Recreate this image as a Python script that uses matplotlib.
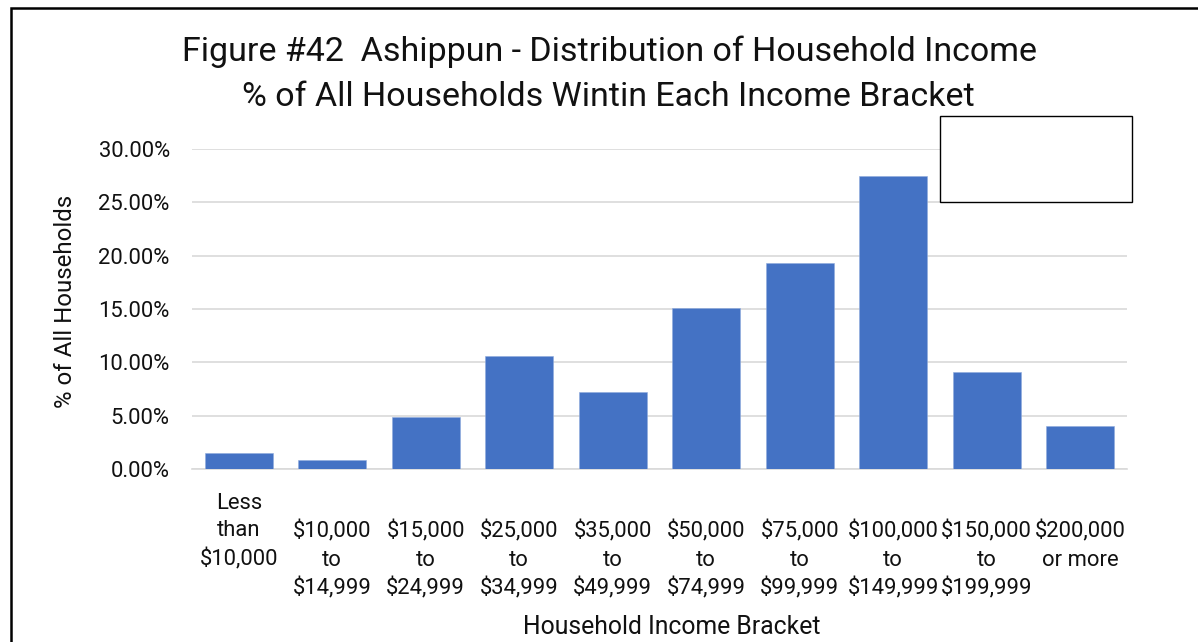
import matplotlib.pyplot as plt
from matplotlib.patches import Rectangle
from matplotlib.ticker import FuncFormatter

plt.rcParams['font.family'] = ['Roboto', 'DejaVu Sans']

# Household income brackets and share of households in each
brackets = [
    "Less\nthan\n$10,000",
    "\n$10,000\nto\n$14,999",
    "\n$15,000\nto\n$24,999",
    "\n$25,000\nto\n$34,999",
    "\n$35,000\nto\n$49,999",
    "\n$50,000\nto\n$74,999",
    "\n$75,000\nto\n$99,999",
    "\n$100,000\nto\n$149,999",
    "\n$150,000\nto\n$199,999",
    "\n$200,000\nor more",
]
share = [1.47, 0.84, 4.90, 10.60, 7.19, 15.09, 19.28, 27.50, 9.06, 4.00]
y_ticks = [0, 5, 10, 15, 20, 25, 30]

W, H = 1198, 642
fig = plt.figure(figsize=(W / 100, H / 100), dpi=100)
ax = fig.add_axes([192 / W, 1 - 469 / H, (1127 - 192) / W, (469 - 149) / H])

x = range(len(share))
ax.bar(x, share, width=0.73, color='#4472C4', edgecolor='#8faadc', linewidth=0.4, zorder=3)

ax.set_xlim(-0.5, len(share) - 0.5)
ax.set_ylim(0, 30)
ax.set_yticks(y_ticks)
ax.yaxis.set_major_formatter(FuncFormatter(lambda v, p: f"{v:.2f}%"))
ax.set_xticks(list(x))
ax.set_xticklabels(brackets, linespacing=1.42, va='top')
ax.tick_params(axis='both', length=0, labelsize=15.8, colors='#111111')
ax.tick_params(axis='y', pad=16)
ax.tick_params(axis='x', pad=17)

ax.grid(axis='y', color='#d9d9d9', linewidth=1.2, zorder=0)
for side in ['top', 'right', 'left']:
    ax.spines[side].set_visible(False)
ax.spines['bottom'].set_color('#d9d9d9')
ax.spines['bottom'].set_linewidth(1.2)

fig.text(65 / W, 1 - 301 / H, "% of All Households", rotation=90,
         ha='center', va='center', fontsize=17.3, color='#111111')
fig.text(672 / W, 1 - 627 / H, "Household Income Bracket",
         ha='center', va='center', fontsize=17.8, color='#111111')

fig.text(609 / W, 1 - 52 / H, "Figure #42  Ashippun - Distribution of Household Income",
         ha='center', va='center', fontsize=24.5, color='#111111')
fig.text(608 / W, 1 - 97 / H, "% of All Households Wintin Each Income Bracket",
         ha='center', va='center', fontsize=24.5, color='#111111')

# empty legend frame, drawn over the gridlines
fig.add_artist(Rectangle((940 / W, 1 - 202 / H), 192 / W, 86 / H,
                         transform=fig.transFigure, facecolor='white',
                         edgecolor='black', linewidth=1.0, zorder=5))
# outer chart border
fig.add_artist(Rectangle((11 / W, -0.05), 1.2, 1 - 8 / H + 0.05,
                         transform=fig.transFigure, fill=False,
                         edgecolor='black', linewidth=1.8))

fig.savefig('out.png', dpi=100)
